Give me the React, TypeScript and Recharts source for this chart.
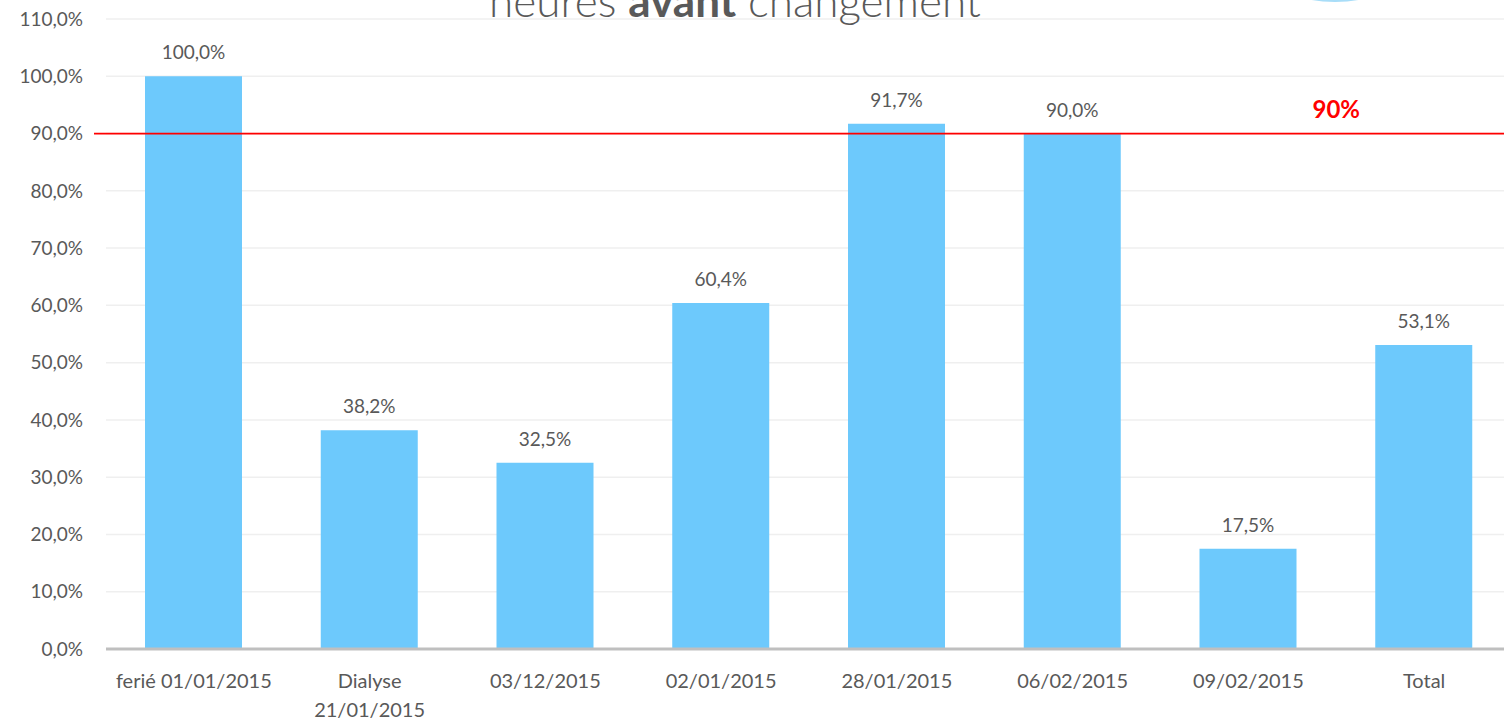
import React from "react";
import {
  Bar,
  BarChart,
  CartesianGrid,
  LabelList,
  ReferenceLine,
  XAxis,
  YAxis,
} from "recharts";

const categories = [
  "ferié 01/01/2015",
  "Dialyse\n21/01/2015",
  "03/12/2015",
  "02/01/2015",
  "28/01/2015",
  "06/02/2015",
  "09/02/2015",
  "Total",
];
const values = [100.0, 38.2, 32.5, 60.4, 91.7, 90.0, 17.5, 53.1];
const yTicks = [0, 10, 20, 30, 40, 50, 60, 70, 80, 90, 100, 110];
const target = 90;

const FONT = "Lato, 'Open Sans', sans-serif";
const INK = "#595959";
const BAR = "#6DC9FC";

const pct = (v: number) => `${v.toFixed(1).replace(".", ",")}%`;

const data = categories.map((c, i) => ({ name: c, value: values[i] }));

function CatTick(props: any) {
  const { x, y, payload } = props;
  const lines = String(payload.value).split("\n");
  return (
    <text x={x} y={y} textAnchor="middle" fill={INK} fontSize={20} fontFamily={FONT}>
      {lines.map((l, i) => (
        <tspan key={i} x={x} dy={i === 0 ? 31 : 29}>
          {l}
        </tspan>
      ))}
    </text>
  );
}

// red target line reaches a little past the plot's left edge
function TargetLine(props: any) {
  const { x1, y1, x2, y2 } = props;
  return <line x1={x1 - 12} y1={y1} x2={x2} y2={y2} stroke="#FF0000" strokeWidth={1.8} />;
}

function TargetLabel(props: any) {
  const { viewBox } = props;
  const x = viewBox.x + (viewBox.width * 7) / 8;
  return (
    <text
      x={x}
      y={viewBox.y - 16}
      textAnchor="middle"
      fill="#FF0000"
      fontSize={24}
      fontWeight="bold"
      fontFamily={FONT}
    >
      {`${target}%`}
    </text>
  );
}

export default function App() {
  return (
    <div style={{ position: "absolute", left: 0, top: 0, width: 1512, height: 721, background: "#fff" }}>
      <BarChart
        width={1512}
        height={721}
        data={data}
        margin={{ top: 19, right: 0, left: 0, bottom: 0 }}
      >
        <CartesianGrid vertical={false} stroke="#EFEFEF" strokeWidth={1.5} />
        <XAxis
          dataKey="name"
          axisLine={{ stroke: "#BFBFBF", strokeWidth: 3 }}
          tickLine={false}
          interval={0}
          height={72}
          tick={<CatTick />}
        />
        <YAxis
          domain={[0, 110]}
          ticks={yTicks}
          tickFormatter={pct}
          axisLine={false}
          tickLine={false}
          tickMargin={17}
          width={106}
          tick={{ fill: INK, fontSize: 19, fontFamily: FONT }}
        />
        <Bar dataKey="value" fill={BAR} barSize={97} isAnimationActive={false}>
          <LabelList
            dataKey="value"
            position="top"
            offset={17}
            formatter={(v: any) => pct(Number(v))}
            style={{ fill: INK, fontSize: 19, fontFamily: FONT }}
          />
        </Bar>
        <ReferenceLine
          y={target}
          shape={<TargetLine />}
          label={<TargetLabel />}
          ifOverflow="visible"
        />
      </BarChart>
      <svg
        width={1512}
        height={40}
        style={{ position: "absolute", left: 0, top: 0, pointerEvents: "none" }}
      >
        <ellipse cx={1335} cy={-22} rx={56} ry={23} fill="none" stroke="#A8DDF8" strokeWidth={2} />
        <text x={735} y={17} textAnchor="middle" fill={INK} fontSize={44} fontWeight={300} fontFamily={FONT}>
          heures <tspan fontWeight="bold">avant</tspan> changement
        </text>
      </svg>
    </div>
  );
}
